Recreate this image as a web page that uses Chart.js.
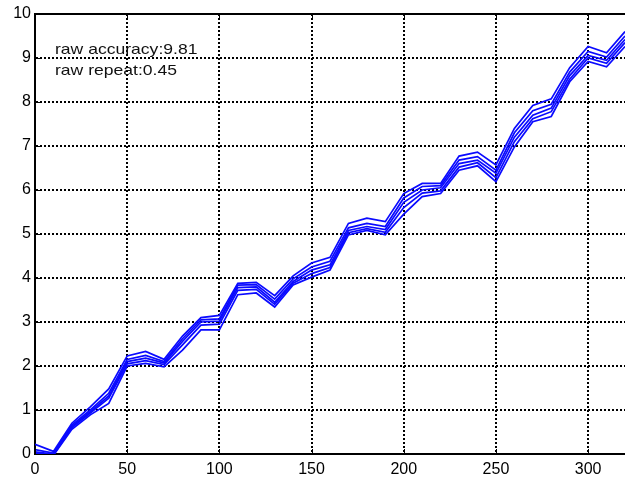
<!DOCTYPE html>
<html><head><meta charset="utf-8">
<script src="https://cdn.jsdelivr.net/npm/chart.js@4.4.0/dist/chart.umd.min.js"></script>
<style>html,body{margin:0;padding:0;background:#fff;overflow:hidden}#wrap{width:625px;height:481px;position:relative}</style>
</head><body><div id="wrap"><canvas id="c" width="625" height="481"></canvas></div>
<script>
const xValues = [0,10,20,30,40,50,60,70,80,90,100,110,120,130,140,150,160,170,180,190,200,210,220,230,240,250,260,270,280,290,300,310,320];
const run1 = [0.22,0.06,0.70,1.07,1.48,2.23,2.33,2.15,2.68,3.10,3.15,3.88,3.90,3.60,4.05,4.34,4.47,5.24,5.36,5.28,5.92,6.15,6.15,6.77,6.86,6.57,7.40,7.92,8.07,8.78,9.26,9.12,9.60];
const run2 = [0.10,0.02,0.66,1.00,1.38,2.15,2.24,2.10,2.62,3.05,3.07,3.84,3.85,3.52,3.98,4.25,4.38,5.14,5.24,5.17,5.82,6.08,6.10,6.68,6.76,6.45,7.30,7.80,7.95,8.68,9.15,9.02,9.50];
const run3 = [0.05,0.00,0.63,0.96,1.32,2.10,2.18,2.07,2.56,3.00,3.02,3.78,3.80,3.45,3.92,4.18,4.30,5.08,5.17,5.10,5.72,6.00,6.05,6.60,6.68,6.38,7.20,7.70,7.86,8.60,9.06,8.95,9.42];
const run4 = [0.02,-0.02,0.60,0.93,1.27,2.05,2.12,2.03,2.48,2.93,2.95,3.72,3.74,3.40,3.88,4.10,4.24,5.03,5.12,5.04,5.60,5.93,5.98,6.52,6.62,6.28,7.10,7.62,7.78,8.52,9.00,8.88,9.35];
const run5 = [0.00,-0.03,0.56,0.89,1.15,2.00,2.06,1.98,2.36,2.82,2.82,3.62,3.66,3.34,3.84,4.02,4.18,4.98,5.08,4.98,5.45,5.85,5.92,6.45,6.55,6.19,6.98,7.55,7.67,8.46,8.92,8.80,9.26];
const xTicks = [0,50,100,150,200,250,300];
const yTicks = [0,1,2,3,4,5,6,7,8,9,10];
const notes = ['raw accuracy:9.81','raw repeat:0.45'];

const runs = [run1, run2, run3, run4, run5];
const datasets = runs.map(r => ({
  data: xValues.map((x, i) => ({x: x, y: r[i]})),
  borderColor: '#0a0aff',
  borderWidth: 1.7,
  pointRadius: 0,
  fill: false,
  tension: 0
}));

const frame = {
  id: 'frame',
  afterDraw(chart) {
    const {ctx, chartArea: a, scales: {x, y}} = chart;
    ctx.save();
    ctx.strokeStyle = '#000';
    ctx.lineWidth = 2;
    ctx.beginPath(); ctx.moveTo(a.left - 1, a.top); ctx.lineTo(a.right, a.top); ctx.stroke();
    ctx.lineWidth = 1;
    ctx.beginPath();
    x.ticks.forEach(t => {
      const px = Math.round(x.getPixelForValue(t.value)) + 0.5;
      ctx.moveTo(px, a.bottom); ctx.lineTo(px, a.bottom - 5);
      ctx.moveTo(px, a.top); ctx.lineTo(px, a.top + 5);
    });
    y.ticks.forEach(t => {
      const py = Math.round(y.getPixelForValue(t.value)) + 0.5;
      ctx.moveTo(a.left, py); ctx.lineTo(a.left + 5, py);
    });
    ctx.stroke();
    ctx.fillStyle = '#111';
    ctx.font = '15px "Liberation Sans", Arial, sans-serif';
    ctx.textBaseline = 'alphabetic';
    notes.forEach((s, i) => {
      ctx.save();
      ctx.translate(a.left + 20, a.top + 40 + i * 21);
      ctx.scale(1.17, 1);
      ctx.fillText(s, 0, 0);
      ctx.restore();
    });
    ctx.restore();
  }
};

const tickFont = {family: '"Liberation Sans", Arial, sans-serif', size: 16};
new Chart(document.getElementById('c'), {
  type: 'line',
  data: {datasets},
  options: {
    responsive: false,
    animation: false,
    layout: {padding: {top: 14, right: -3, left: 0, bottom: 0}},
    plugins: {legend: {display: false}, tooltip: {enabled: false}},
    scales: {
      x: {
        type: 'linear', min: 0, max: 320,
        afterBuildTicks: s => { s.ticks = xTicks.map(v => ({value: v})); },
        grid: {color: '#000', lineWidth: 2, drawTicks: false},
        border: {display: true, color: '#000', width: 2, dash: [2, 2]},
        ticks: {font: tickFont, color: '#000', padding: 6, maxRotation: 0, autoSkip: false},
        afterFit: s => { s.height = 27; }
      },
      y: {
        type: 'linear', min: 0, max: 10,
        afterBuildTicks: s => { s.ticks = yTicks.map(v => ({value: v})); },
        grid: {color: '#000', lineWidth: 2, drawTicks: false},
        border: {display: true, color: '#000', width: 2, dash: [2, 2]},
        ticks: {font: tickFont, color: '#000', padding: 4},
        afterFit: s => { s.width = 35; }
      }
    }
  },
  plugins: [frame]
});
</script>
</body></html>
